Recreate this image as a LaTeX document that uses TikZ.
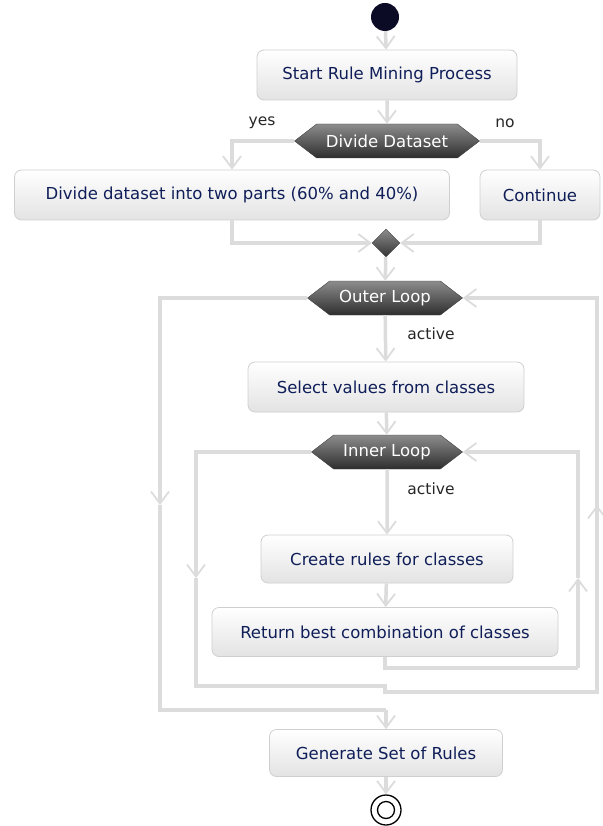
\documentclass[tikz,border=0pt]{standalone}
\usepackage{fontspec}
\setmainfont{DejaVu Sans}
\usetikzlibrary{arrows.meta,shapes.symbols,shapes.geometric}
\definecolor{txt}{HTML}{0F1E58}
\definecolor{ln}{HTML}{DCDCDC}
\definecolor{bd}{HTML}{CFCFCF}
\definecolor{startc}{HTML}{0B0B26}
\begin{document}
\begin{tikzpicture}[x=1pt,y=-1pt,
 act/.style={draw=bd, line width=0.8pt, rounded corners=7pt, top color=white, bottom color=black!11, text=txt, font=\fontsize{16.5}{18}\selectfont, minimum height=50pt, inner sep=0pt},
 hex/.style={shape=signal, signal to=west and east, signal pointer angle=75, draw=black!75, top color=black!45, bottom color=black!82, text=white, font=\fontsize{16.5}{18}\selectfont, minimum height=34pt, inner sep=0pt},
 flow/.style={draw=ln, line width=3.5pt},
 arr/.style={flow, -{Straight Barb[length=12pt,width=18pt,line width=1.8pt]}},
 lbl/.style={text=black!85, font=\fontsize{15.5}{17}\selectfont, inner sep=0pt}
]
\useasboundingbox (0,0) rectangle (602,826);
% nodes
\node[circle, fill=startc, minimum size=28pt, inner sep=0pt] (start) at (385,17) {};
\node[act, minimum width=260pt] (b1) at (387,75) {Start Rule Mining Process};
\node[hex, minimum width=185pt] (dd) at (387,141) {Divide Dataset};
\node[act, minimum width=435pt] (b2) at (232,195) {Divide dataset into two parts (60\% and 40\%)};
\node[act, minimum width=120pt] (b3) at (540,195) {Continue};
\node[diamond, draw=black!75, top color=black!45, bottom color=black!80, minimum size=28pt, inner sep=0pt] (m) at (386,243) {};
\node[hex, minimum width=155pt] (ol) at (385,298) {Outer Loop};
\node[act, minimum width=276pt] (b4) at (386,387) {Select values from classes};
\node[hex, minimum width=151pt] (il) at (387,452) {Inner Loop};
\node[act, minimum width=252pt, minimum height=48pt] (b5) at (387,559) {Create rules for classes};
\node[act, minimum width=346pt, minimum height=49pt] (b6) at (385,632) {Return best combination of classes};
\node[act, minimum width=233pt, minimum height=47pt] (b7) at (386,753) {Generate Set of Rules};
\node[circle, draw=black, line width=1.3pt, minimum size=30pt, inner sep=0pt, fill=white] (end) at (386,810) {};
\node[circle, draw=black, line width=1.3pt, minimum size=17pt, inner sep=0pt] (endin) at (386,810) {};
% labels
\node[lbl] (yes) at (262,123) {yes};
\node[lbl] (no) at (505,123) {no};
\node[lbl] (a1) at (431,334) {active};
\node[lbl] (a2) at (431,489) {active};
% coordinates
\coordinate (ir1) at (578,668);
\coordinate (ir2) at (578,578);
\coordinate (il1) at (196,578);
\coordinate (j1) at (385,686);
\coordinate (j2) at (385,692);
\coordinate (or1) at (597,505);
\coordinate (ol1) at (160,505);
\coordinate (j3) at (386,710);
% connectors
\draw[arr] (start) -- (b1);
\draw[arr] (b1) -- (dd);
\draw[arr] (dd.west) -| (b2.north);
\draw[arr] (dd.east) -| (b3.north);
\draw[arr] (b2.south) |- (m.west);
\draw[arr] (b3.south) |- (m.east);
\draw[arr] (m) -- (ol);
\draw[arr] (ol) -- (b4);
\draw[arr] (b4) -- (il);
\draw[arr] (il) -- (b5);
\draw[arr] (b5) -- (b6);
\draw[flow] (b6.south) |- (ir1);
\draw[arr] (ir1) -- (ir2);
\draw[arr] (ir2) |- (il.east);
\draw[arr] (il.west) -| (il1);
\draw[flow] (il1) |- (j1) -- (j2) -| (or1);
\draw[arr] (j2 -| or1) -- (or1);
\draw[arr] (or1) |- (ol.east);
\draw[arr] (ol.west) -| (ol1);
\draw[flow] (ol1) |- (j3);
\draw[arr] (j3) -- (b7.north);
\draw[arr] (b7) -- (end);
\end{tikzpicture}
\end{document}
